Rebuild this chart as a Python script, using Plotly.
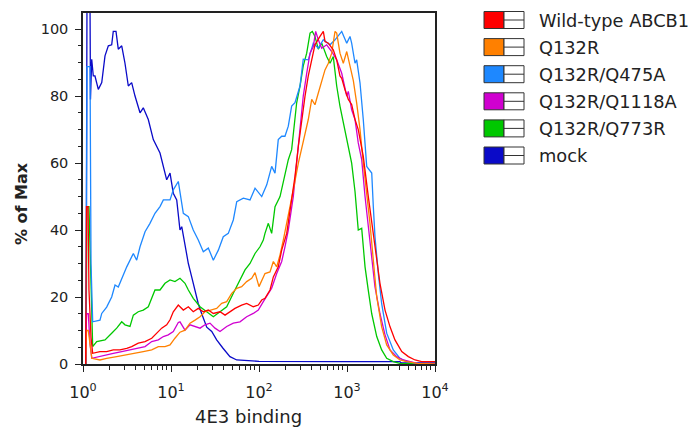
import numpy as np
import plotly.graph_objects as go

# ---------------- data (x as log10 of 4E3 binding, y as % of Max) ----------------
series_names = ["Wild-type ABCB1", "Q132R", "Q132R/Q475A", "Q132R/Q1118A", "Q132R/Q773R", "mock"]
series_colors = ["#FF0000", "#FF8000", "#1E88FF", "#D000D0", "#00C800", "#0A0AC8"]

wt_log = [0.030, 0.040, 0.057, 0.068, 0.091, 0.110, 0.193, 0.269, 0.344, 0.420, 0.497, 0.553, 0.628, 0.705,
          0.781, 0.838, 0.894, 0.951, 0.989, 1.026, 1.083, 1.140, 1.197, 1.253, 1.310, 1.367, 1.424, 1.481,
          1.557, 1.614, 1.670, 1.727, 1.803, 1.860, 1.935, 1.992, 2.031, 2.068, 2.125, 2.163, 2.219, 2.258,
          2.315, 2.352, 2.409, 2.447, 2.485, 2.523, 2.560, 2.599, 2.636, 2.693, 2.731, 2.750, 2.788, 2.844,
          2.883, 2.920, 2.940, 2.977, 3.015, 3.053, 3.091, 3.128, 3.185, 3.242, 3.281, 3.318, 3.375, 3.432,
          3.489, 3.545, 3.622, 3.697, 3.773, 3.849, 4.000]
wt_pct = [0, 47, 47, 22, 8, 3.2, 3.7, 3.7, 4.2, 4.2, 4.7, 5.2, 6.2, 6.7,
          7.7, 9.2, 10.7, 11.7, 13.2, 15.6, 17.6, 16.1, 17.1, 15.6, 16.6, 15.6, 16.1, 15.1,
          15.6, 14.6, 15.6, 16.6, 17.6, 18.1, 17.1, 17.6, 19.1, 19.6, 22.1, 26, 29, 34,
          39, 45.5, 56, 65, 73, 80, 86, 91, 95.3, 97.8, 99.3, 96.3, 95.8, 93.8,
          90.8, 86, 85.3, 81.9, 79, 77.5, 73, 70, 62, 50, 42, 34, 24, 16.1,
          11.1, 7.2, 3.7, 2.2, 1.2, 0.7, 0.7]

q132r_log = [0.030, 0.040, 0.060, 0.080, 0.100, 0.193, 0.269, 0.383, 0.497, 0.591, 0.685, 0.781, 0.856, 0.932,
             0.989, 1.045, 1.102, 1.159, 1.216, 1.273, 1.330, 1.386, 1.443, 1.519, 1.576, 1.633, 1.690, 1.747,
             1.803, 1.860, 1.917, 1.955, 2.000, 2.031, 2.068, 2.125, 2.163, 2.201, 2.239, 2.276, 2.333, 2.371,
             2.390, 2.447, 2.503, 2.560, 2.599, 2.636, 2.674, 2.713, 2.750, 2.788, 2.826, 2.864, 2.883, 2.920,
             2.958, 2.997, 3.034, 3.072, 3.110, 3.148, 3.185, 3.224, 3.261, 3.299, 3.338, 3.394, 3.451, 3.526,
             3.602, 3.678, 3.800, 4.000]
q132r_pct = [0, 10, 10, 5, 1.7, 1.2, 1.7, 2.2, 2.7, 3.2, 3.7, 4.2, 5.2, 5.2,
             5.7, 7.7, 9.5, 10.1, 12.2, 13.1, 14.1, 15.6, 16.1, 16.6, 18.1, 18.6, 21.1, 22.6,
             23.1, 24.6, 25.6, 27.3, 23.1, 25.1, 27, 27.5, 30.6, 29, 32.6, 37, 44, 49,
             52, 60, 66, 73, 79, 77.4, 80.9, 84.4, 87.8, 89.8, 92.8, 99.3, 98.8, 92.8,
             89.8, 93.3, 89, 84.6, 77.9, 70, 60, 51, 42, 31, 20, 11.1, 5.7, 2.7,
             1.2, 0.7, 0.2, 0]

q475a_log = [0.034, 0.045, 0.080, 0.091, 0.110, 0.193, 0.213, 0.269, 0.326, 0.364, 0.401, 0.458, 0.497, 0.572,
             0.610, 0.648, 0.705, 0.761, 0.818, 0.875, 0.913, 0.989, 1.026, 1.083, 1.140, 1.197, 1.253, 1.310,
             1.367, 1.424, 1.481, 1.538, 1.594, 1.651, 1.708, 1.747, 1.822, 1.898, 1.955, 2.031, 2.088, 2.144,
             2.182, 2.219, 2.258, 2.295, 2.333, 2.371, 2.409, 2.466, 2.503, 2.560, 2.617, 2.674, 2.731, 2.807,
             2.864, 2.940, 2.997, 3.034, 3.053, 3.091, 3.110, 3.148, 3.185, 3.224, 3.281, 3.299, 3.318, 3.356,
             3.394, 3.451, 3.526, 3.602, 3.678, 3.800, 4.000]
q475a_pct = [0, 88.8, 88.8, 30, 12.6, 13.1, 15.1, 17, 20, 23.6, 23, 26.6, 29, 33,
             31, 35, 39.5, 42, 45, 47, 49, 49, 52, 54.5, 45, 44, 40, 37,
             33.5, 34.6, 31, 34, 38, 39, 43, 48.5, 49.5, 49, 52.5, 50, 53.5, 59,
             57, 67, 68, 68, 71, 77, 78, 83, 91, 90.8, 95.8, 94.3, 96.8, 95.3,
             96.8, 99.3, 95.8, 97.8, 95.8, 89.8, 90.8, 83.9, 73, 59, 57, 47, 38, 27,
             18, 9.2, 4.2, 1.7, 0.7, 0.2, 0]

q1118a_log = [0.030, 0.040, 0.060, 0.080, 0.100, 0.174, 0.269, 0.344, 0.440, 0.534, 0.610, 0.705, 0.781, 0.856,
              0.913, 0.969, 1.026, 1.083, 1.102, 1.159, 1.216, 1.273, 1.330, 1.386, 1.443, 1.500, 1.557, 1.633,
              1.708, 1.784, 1.860, 1.935, 1.992, 2.049, 2.088, 2.144, 2.201, 2.258, 2.295, 2.333, 2.390, 2.428,
              2.466, 2.503, 2.542, 2.580, 2.617, 2.644, 2.674, 2.713, 2.769, 2.826, 2.883, 2.940, 2.997, 3.015,
              3.053, 3.091, 3.128, 3.167, 3.205, 3.242, 3.281, 3.318, 3.375, 3.432, 3.489, 3.565, 3.640, 3.716,
              3.800, 4.000]
q1118a_pct = [0, 15, 15, 6, 1.7, 2.2, 2.7, 3.2, 3.7, 4.2, 4.7, 5.2, 6.7, 7.2,
              8.2, 8.7, 9.7, 12.4, 12.6, 10.1, 11.7, 11.2, 10.7, 11.7, 12.2, 10.7, 9.7, 11.2,
              12.2, 12.6, 14.1, 15.1, 16.1, 18.6, 20.1, 22.6, 27, 30.6, 35, 40, 50, 60,
              70, 80, 86.8, 92.8, 94.8, 99.3, 96.8, 94.3, 95.3, 93.3, 90.8, 86.8, 80, 81.4,
              75.9, 73, 66, 61, 50, 41, 32, 23, 15, 8.7, 4.2, 2.2, 1.2, 0.7,
              0.2, 0]

q773r_log = [0.034, 0.045, 0.068, 0.075, 0.091, 0.110, 0.156, 0.250, 0.326, 0.383, 0.440, 0.477, 0.534, 0.572,
             0.628, 0.685, 0.742, 0.781, 0.818, 0.875, 0.932, 0.989, 1.045, 1.102, 1.159, 1.197, 1.253, 1.330,
             1.406, 1.481, 1.557, 1.633, 1.708, 1.784, 1.841, 1.898, 1.955, 2.011, 2.049, 2.068, 2.106, 2.144,
             2.182, 2.239, 2.295, 2.333, 2.371, 2.409, 2.428, 2.466, 2.503, 2.542, 2.580, 2.606, 2.636, 2.674,
             2.713, 2.769, 2.807, 2.844, 2.883, 2.920, 2.977, 3.015, 3.053, 3.091, 3.128, 3.167, 3.205, 3.242,
             3.281, 3.338, 3.394, 3.451, 3.526, 3.600, 4.000]
q773r_pct = [0, 47, 47, 39.5, 20, 5.2, 6.7, 7.2, 9.2, 10.7, 12.6, 11.7, 11.2, 14.6,
             15.6, 16.1, 17.1, 20, 22.1, 22.1, 24.1, 25.1, 24.6, 25.6, 24.1, 22.1, 19.6, 17.1,
             15.6, 14.1, 15.6, 17.1, 21.1, 25.1, 28.1, 30, 33, 35, 37, 39, 42, 39,
             47, 50, 56, 61, 64, 73, 78, 83, 89, 92.8, 98.8, 99.3, 97.8, 94,
             95.8, 91.8, 89.8, 91.8, 83, 77, 69.5, 64.5, 60, 51.5, 40, 40.5, 29, 22,
             15, 8.2, 4.2, 1.7, 0.7, 0.2, 0]

mock_log = [0.034, 0.040, 0.045, 0.080, 0.085, 0.099, 0.117, 0.136, 0.174, 0.213, 0.250, 0.288, 0.326, 0.344,
            0.375, 0.401, 0.440, 0.477, 0.515, 0.553, 0.591, 0.648, 0.685, 0.742, 0.799, 0.875, 0.951, 0.989,
            1.026, 1.065, 1.102, 1.122, 1.159, 1.197, 1.235, 1.273, 1.310, 1.349, 1.406, 1.463, 1.519, 1.591,
            1.670, 1.747, 1.841, 2.000, 3.000, 3.600, 3.620, 4.000]
mock_pct = [0, 71, 106, 106, 79, 91, 86, 86, 82, 84, 92, 95, 95.3, 99.3,
            99.3, 94, 95, 89.8, 83, 84, 80, 75, 76.5, 73, 67, 63, 55, 57,
            51, 49, 40, 41, 35, 30, 26, 22, 18, 15, 11, 9.7, 7.2, 4.7,
            2.2, 1.2, 1.0, 0.8, 0.7, 0.7, 0.3, 0.3]

x_tick_exponents = [0, 1, 2, 3, 4]
y_tick_values = [0, 20, 40, 60, 80, 100]
x_title = "4E3 binding"
y_title = "% of Max"

series_data = {
    "Wild-type ABCB1": (wt_log, wt_pct),
    "Q132R": (q132r_log, q132r_pct),
    "Q132R/Q475A": (q475a_log, q475a_pct),
    "Q132R/Q1118A": (q1118a_log, q1118a_pct),
    "Q132R/Q773R": (q773r_log, q773r_pct),
    "mock": (mock_log, mock_pct),
}
color_of = dict(zip(series_names, series_colors))

# ---------------- layout geometry (pixels) ----------------
W, H = 694, 430
L_PX, R_PX, T_PX, B_PX = 83, 435, 13, 364
pw, ph = R_PX - L_PX, B_PX - T_PX


def px_x(px):
    return (px - L_PX) / pw


def px_y(py):
    return (B_PX - py) / ph


fig = go.Figure()
draw_order = ["mock", "Q132R/Q773R", "Q132R/Q475A", "Q132R/Q1118A", "Q132R", "Wild-type ABCB1"]
for name in draw_order:
    lg, pct = series_data[name]
    fig.add_trace(go.Scatter(
        x=np.power(10.0, np.array(lg)), y=pct, mode="lines", name=name,
        line=dict(color=color_of[name], width=1.3), showlegend=False, hoverinfo="skip"))

minor_x = [m * 10 ** k for k in range(0, 4) for m in range(2, 10)]

fig.update_xaxes(
    type="log", range=[0, 4], showgrid=False, zeroline=False,
    showline=True, linecolor="#222", linewidth=1.5, mirror=True,
    ticks="outside", ticklen=6, tickwidth=1.2, tickcolor="#222",
    tickvals=[10 ** e for e in x_tick_exponents],
    ticktext=["10<sup>%d</sup>" % e for e in x_tick_exponents],
    tickfont=dict(family="DejaVu Sans", size=16, color="#222"),
    ticklabelstandoff=7,
    minor=dict(tickvals=minor_x, ticks="outside", ticklen=4, tickwidth=1, tickcolor="#222", showgrid=False),
)
fig.update_yaxes(
    range=[0, 104.8], showgrid=False, zeroline=False,
    showline=True, linecolor="#222", linewidth=1.5, mirror=True,
    ticks="outside", ticklen=6, tickwidth=1.2, tickcolor="#222",
    tickvals=y_tick_values, tickfont=dict(family="DejaVu Sans", size=14.5, color="#222"),
    ticklabelstandoff=4,
    minor=dict(dtick=5, ticks="outside", ticklen=3, tickwidth=1, tickcolor="#222", showgrid=False),
)

annotations = [
    dict(text=x_title, x=px_x(248), y=px_y(416), xref="paper", yref="paper",
         showarrow=False, font=dict(family="DejaVu Sans", size=18, color="#222"),
         xanchor="center", yanchor="middle"),
    dict(text="<b>" + y_title + "</b>", x=px_x(21), y=px_y(204), xref="paper", yref="paper",
         showarrow=False, textangle=-90, font=dict(family="DejaVu Sans", size=16, color="#222"),
         xanchor="center", yanchor="middle"),
]
shapes = []
row0, row_step = 20, 27.1
for i, name in enumerate(series_names):
    cy = row0 + i * row_step
    y0, y1 = px_y(cy + 8.5), px_y(cy - 8.5)
    shapes.append(dict(type="rect", xref="paper", yref="paper", x0=px_x(484), x1=px_x(504), y0=y0, y1=y1,
                       fillcolor=color_of[name], line=dict(color="#333", width=1)))
    shapes.append(dict(type="rect", xref="paper", yref="paper", x0=px_x(504), x1=px_x(524), y0=y0, y1=y1,
                       fillcolor="white", line=dict(color="#333", width=1)))
    shapes.append(dict(type="line", xref="paper", yref="paper", x0=px_x(504), x1=px_x(524),
                       y0=px_y(cy), y1=px_y(cy), line=dict(color="#333", width=1)))
    annotations.append(dict(text=name, x=px_x(537), y=px_y(cy), xref="paper", yref="paper",
                            showarrow=False, xanchor="left", yanchor="middle",
                            font=dict(family="DejaVu Sans", size=17.8, color="#222")))

fig.update_layout(
    width=W, height=H, margin=dict(l=L_PX, r=W - R_PX, t=T_PX, b=H - B_PX, pad=0),
    paper_bgcolor="white", plot_bgcolor="white", showlegend=False,
    annotations=annotations, shapes=shapes,
)

fig.write_html("out.html")
